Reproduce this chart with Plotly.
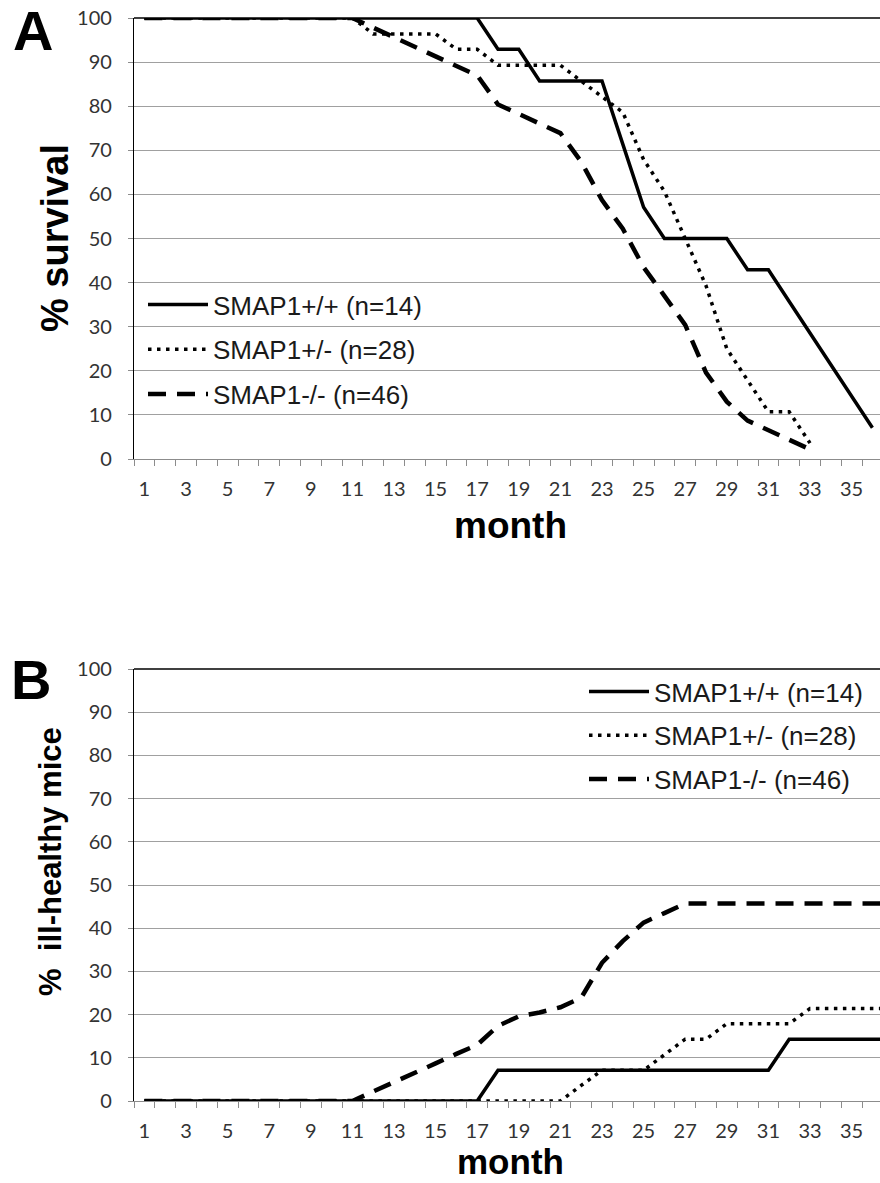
import plotly.graph_objects as go

# ---------------- data ----------------
months_a = list(range(1, 37))
months_b = list(range(1, 38))
tick_months = list(range(1, 36, 2))
tick_labels = [str(m) for m in tick_months]
y_ticks = list(range(0, 101, 10))

names = ["SMAP1+/+ (n=14)", "SMAP1+/- (n=28)", "SMAP1-/- (n=46)"]

# Panel A: % survival
surv_wt = [100] * 17 + [92.9, 92.9, 85.7, 85.7, 85.7, 85.7, 71.4, 57.1, 50.0, 50.0,
                        50.0, 50.0, 42.9, 42.9, 35.7, 28.6, 21.4, 14.3, 7.1]
surv_het = [100] * 11 + [96.4, 96.4, 96.4, 96.4, 92.9, 92.9, 89.3, 89.3, 89.3, 89.3,
                         85.7, 82.1, 78.6, 67.9, 60.7, 50.0, 39.3, 25.0, 17.9, 10.7,
                         10.7, 3.6]
surv_ko = [100] * 11 + [97.8, 95.7, 93.5, 91.3, 89.1, 87.0, 80.4, 78.3, 76.1, 73.9,
                        67.4, 58.7, 52.2, 43.5, 37.0, 30.4, 19.6, 13.0, 8.7, 6.5,
                        4.3, 2.2]

# Panel B: % ill-healthy mice
ill_wt = [0] * 17 + [7.1] * 14 + [14.3] * 6
ill_het = [0] * 21 + [3.6, 7.1, 7.1, 7.1, 10.7, 14.3, 14.3, 17.9, 17.9, 17.9, 17.9] + [21.4] * 5
ill_ko = [0] * 11 + [2.2, 4.3, 6.5, 8.7, 10.9, 13.0, 17.4, 19.6, 20.5, 21.7,
                     23.9, 32.0, 37.0, 41.3, 43.5] + [45.7] * 11

# ---------------- styling ----------------
W, H = 880, 1183
ML, MR, MT, MB = 134, 0, 18, 82
PW, PH = W - ML - MR, H - MT - MB


def px(x):
    return (x - ML) / PW


def py(y):
    return (H - MB - y) / PH


styles = [
    dict(color="black", width=3.5, dash="solid"),
    dict(color="black", width=3.5, dash="3.5px,5.5px"),
    dict(color="black", width=4.5, dash="18px,11px"),
]

fig = go.Figure()
for nm, ys, st in zip(names, [surv_wt, surv_het, surv_ko], styles):
    fig.add_trace(go.Scatter(x=months_a[:len(ys)], y=ys, mode="lines", name=nm,
                             line=st, xaxis="x", yaxis="y", legend="legend",
                             legendgroup="a" + nm))
for nm, ys, st in zip(names, [ill_wt, ill_het, ill_ko], styles):
    fig.add_trace(go.Scatter(x=months_b[:len(ys)], y=ys, mode="lines", name=nm,
                             line=st, xaxis="x2", yaxis="y2", legend="legend2",
                             legendgroup="b" + nm))

tickfont = dict(family="Lato, Calibri, sans-serif", size=20, color="#333333")
grid = "#a0a0a0"

xa = dict(range=[0.5, 0.5 + PW / 20.8], tickmode="array", tickvals=tick_months,
          ticktext=tick_labels, ticks="", showgrid=False, zeroline=False,
          showline=True, linecolor="#8c8c8c", linewidth=1.3, tickfont=tickfont,
          ticklabelstandoff=12,
          minor=dict(tickmode="linear", tick0=0.5, dtick=1, ticks="outside",
                     ticklen=6, tickcolor="#8c8c8c", tickwidth=1.3, showgrid=False))
ya = dict(range=[0, 100], tickmode="array", tickvals=y_ticks, showgrid=True,
          gridcolor=grid, gridwidth=1.3, zeroline=False, showline=True,
          linecolor="black", linewidth=1.3, ticks="outside", ticklen=5,
          tickcolor="#8c8c8c", tickfont=tickfont, ticklabelstandoff=12)

dom_a = [py(459), py(18)]
dom_b = [py(1101), py(669)]

legfont = dict(family="Arial, Liberation Sans, sans-serif", size=26, color="#1a1a1a")

fig.update_layout(
    width=W, height=H,
    margin=dict(l=ML, r=MR, t=MT, b=MB, autoexpand=False),
    paper_bgcolor="white", plot_bgcolor="white",
    xaxis=dict(xa, anchor="y"),
    yaxis=dict(ya, domain=dom_a, anchor="x"),
    xaxis2=dict(xa, anchor="y2"),
    yaxis2=dict(ya, domain=dom_b, anchor="x2"),
    legend=dict(x=px(143), y=py(281), xanchor="left", yanchor="top",
                font=legfont, bgcolor="rgba(0,0,0,0)", tracegroupgap=8,
                itemwidth=60),
    legend2=dict(x=px(584), y=py(668), xanchor="left", yanchor="top",
                 font=legfont, bgcolor="rgba(0,0,0,0)", tracegroupgap=7,
                 itemwidth=60),
    showlegend=True,
)

bold = "Arial, Liberation Sans, sans-serif"
ann = [
    dict(text="<b>A</b>", x=px(33), y=py(31), font=dict(family=bold, size=56, color="black")),
    dict(text="<b>B</b>", x=px(31), y=py(680), font=dict(family=bold, size=56, color="black")),
    dict(text="<b>% survival</b>", x=px(55), y=py(238), textangle=-90,
         font=dict(family=bold, size=38, color="black")),
    dict(text="<b>%  ill-healthy mice</b>", x=px(50), y=py(862), textangle=-90,
         font=dict(family=bold, size=31, color="black")),
    dict(text="<b>month</b>", x=px(510), y=py(525), font=dict(family=bold, size=37, color="black")),
    dict(text="<b>month</b>", x=px(510), y=py(1161), font=dict(family=bold, size=35, color="black")),
]
for a in ann:
    a.update(xref="paper", yref="paper", showarrow=False, xanchor="center", yanchor="middle")
fig.update_layout(annotations=ann)

# top border of each plot area
for xr, yr in [("x domain", "y domain"), ("x2 domain", "y2 domain")]:
    fig.add_shape(type="line", xref=xr, yref=yr, x0=0, x1=1, y0=1, y1=1,
                  line=dict(color="black", width=1.3))

fig.write_html("out.html", config={"displayModeBar": False},
               post_script="document.body.style.margin='0';document.body.style.overflow='hidden';")
